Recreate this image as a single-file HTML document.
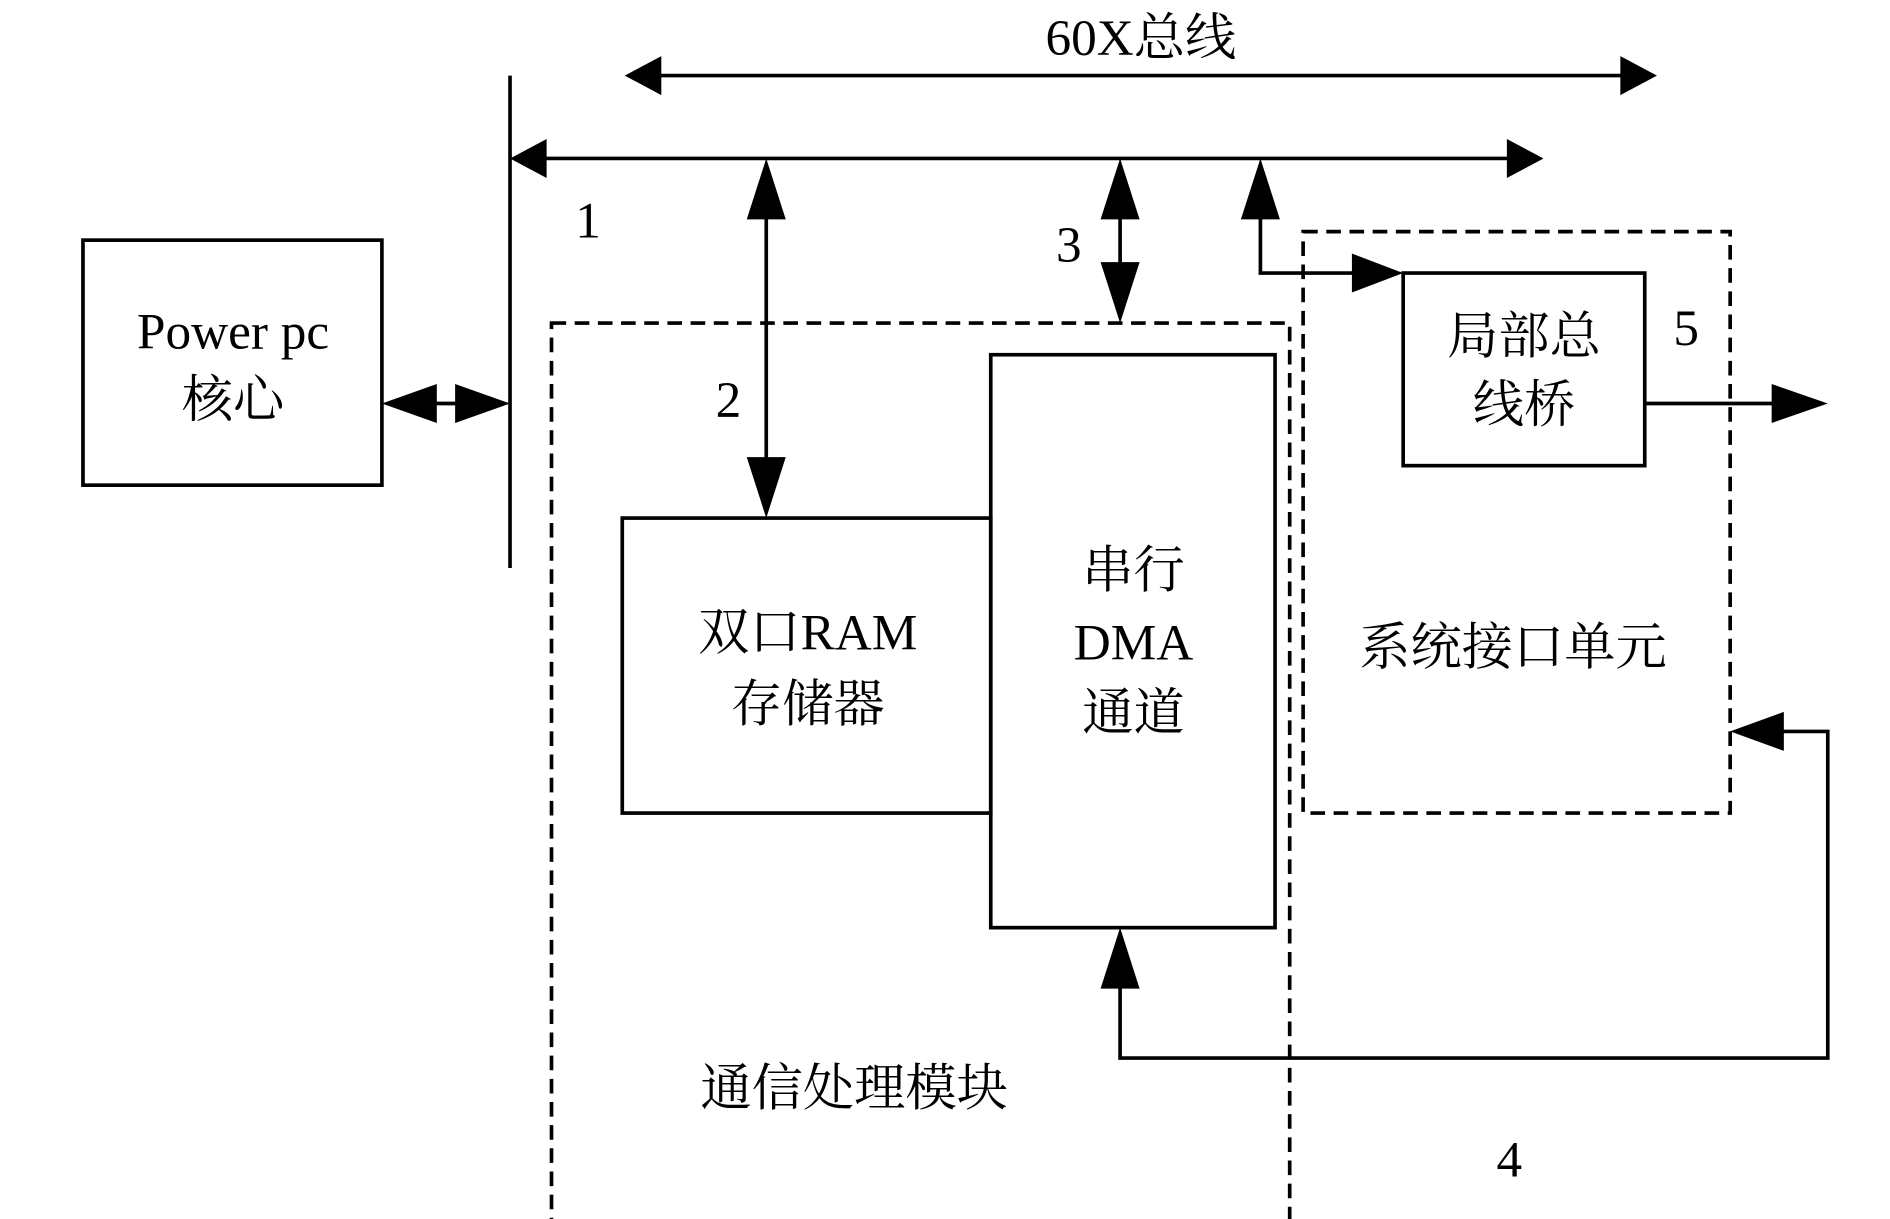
<!DOCTYPE html>
<html><head><meta charset="utf-8"><style>
html,body{margin:0;padding:0;background:#fff;}
svg{display:block;}
text{font-family:"Liberation Serif","Noto Serif CJK SC",serif;font-size:42px;fill:#000;text-anchor:middle;}
</style></head><body>
<svg width="1890" height="1219" viewBox="0 0 1549 1000" preserveAspectRatio="none" xmlns="http://www.w3.org/2000/svg">
<g stroke="#000" stroke-width="3" fill="none">
<line x1="540" y1="62" x2="1330" y2="62"/>
<line x1="418" y1="62" x2="418" y2="466"/>
<line x1="445" y1="130" x2="1238" y2="130"/>
<line x1="628" y1="158" x2="628" y2="398"/>
<line x1="918" y1="158" x2="918" y2="238"/>
<polyline points="1033,158 1033,224 1122,224"/>
<rect x="68" y="197" width="245" height="201"/>
<line x1="340" y1="331" x2="392" y2="331"/>
<rect x="510" y="425" width="302" height="242"/>
<rect x="812" y="291" width="233" height="470"/>
<rect x="1150" y="224" width="198" height="158"/>
<line x1="1348" y1="331" x2="1470" y2="331"/>
<polyline points="918,788 918,868 1498,868 1498,600 1446,600"/>
<rect x="452" y="265" width="605" height="737" stroke-dasharray="12,7"/>
<rect x="1068" y="190" width="350" height="477" stroke-dasharray="12,7"/>
</g>
<g fill="#000">
<polygon points="512,62 542,46 542,78"/>
<polygon points="1358,62 1328,46 1328,78"/>
<polygon points="418,130 448,114 448,146"/>
<polygon points="1265,130 1235,114 1235,146"/>
<polygon points="628,130 612,180 644,180"/>
<polygon points="628,425 612,375 644,375"/>
<polygon points="918,130 902,180 934,180"/>
<polygon points="918,265 902,215 934,215"/>
<polygon points="1033,130 1017,180 1049,180"/>
<polygon points="1150,224 1108,208 1108,240"/>
<polygon points="313,331 358,315 358,347"/>
<polygon points="418,331 373,315 373,347"/>
<polygon points="1498,331 1452,315 1452,347"/>
<polygon points="918,761 902,811 934,811"/>
<polygon points="1418,600 1462,584 1462,616"/>
</g>
<text x="935" y="45">60X总线</text>
<text x="482" y="195">1</text>
<text x="597" y="342">2</text>
<text x="876" y="215">3</text>
<text x="1382" y="283">5</text>
<text x="1237" y="965">4</text>
<text x="191" y="286">Power pc</text>
<text x="191" y="342">核心</text>
<text x="662" y="533">双口RAM</text>
<text x="662" y="592">存储器</text>
<text x="929" y="482">串行</text>
<text x="929" y="541">DMA</text>
<text x="929" y="599">通道</text>
<text x="1249" y="290">局部总</text>
<text x="1249" y="346">线桥</text>
<text x="1240" y="545">系统接口单元</text>
<text x="700" y="907">通信处理模块</text>
</svg>
</body></html>
